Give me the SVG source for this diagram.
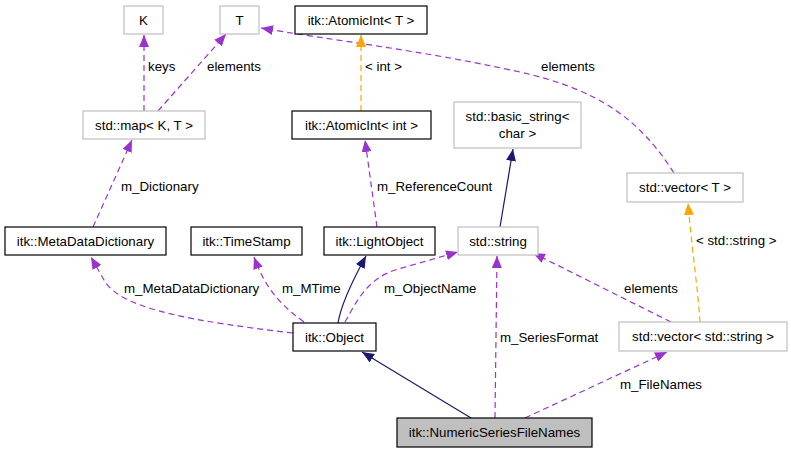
<svg xmlns="http://www.w3.org/2000/svg" width="791" height="453" viewBox="0 0 791 453">
<style>
text{font-family:"Liberation Sans",Arial,sans-serif;font-size:13.3px;fill:#000}
.n text{text-anchor:middle}
.b{fill:#fff;stroke:#000;stroke-width:1.2}
.g{fill:#fff;stroke:#bfbfbf;stroke-width:1.2}
.cur{fill:#bfbfbf;stroke:#000;stroke-width:1.2}
.p{fill:none;stroke:#9a32cd;stroke-width:1.2;stroke-dasharray:6,4;marker-end:url(#ap)}
.o{fill:none;stroke:#ffa500;stroke-width:1.2;stroke-dasharray:6,4;marker-end:url(#ao)}
.s{fill:none;stroke:#191970;stroke-width:1.2;marker-end:url(#as)}
</style>
<defs>
<marker id="ap" markerUnits="userSpaceOnUse" markerWidth="12" markerHeight="10" refX="12" refY="5" orient="auto"><path d="M0,0 L12,5 L0,10 z" fill="#9a32cd"/></marker>
<marker id="ao" markerUnits="userSpaceOnUse" markerWidth="12" markerHeight="10" refX="12" refY="5" orient="auto"><path d="M0,0 L12,5 L0,10 z" fill="#ffa500"/></marker>
<marker id="as" markerUnits="userSpaceOnUse" markerWidth="12" markerHeight="10" refX="12" refY="5" orient="auto"><path d="M0,0 L12,5 L0,10 z" fill="#191970"/></marker>
</defs>
<rect width="791" height="453" fill="#fff"/>
<g id="edges">
<path class="p" d="M144,111 L144,35"/>
<path class="p" d="M158,111 L226,34"/>
<path class="p" d="M674,173 C640,120 600,90 520,72 C420,50 330,40 261,28"/>
<path class="o" d="M361,111 L361,35"/>
<path class="s" d="M500,227 L513,149"/>
<path class="p" d="M377,227 L365,140"/>
<path class="p" d="M93,227 L132,140"/>
<path class="o" d="M700,322 C698,290 692,250 688,203"/>
<path class="p" d="M293,333 C200,322 120,310 104,280 L91,257"/>
<path class="p" d="M304,322 C282,306 266,290 254,257"/>
<path class="s" d="M338,323 C341,305 350,285 366,256"/>
<path class="p" d="M345,322 C355,305 365,280 395,270 L458,252"/>
<path class="p" d="M495,418 L497,256"/>
<path class="p" d="M671,322 L533,253"/>
<path class="s" d="M471,418 L362,352"/>
<path class="p" d="M525,418 L667,352"/>
<text x="148" y="71">keys</text>
<text x="207" y="71">elements</text>
<text x="541" y="71">elements</text>
<text x="365" y="71">&lt; int &gt;</text>
<text x="121" y="191">m_Dictionary</text>
<text x="377" y="191">m_ReferenceCount</text>
<text x="696" y="245">&lt; std::string &gt;</text>
<text x="124" y="293">m_MetaDataDictionary</text>
<text x="282" y="293">m_MTime</text>
<text x="384" y="293">m_ObjectName</text>
<text x="624" y="293">elements</text>
<text x="500" y="342">m_SeriesFormat</text>
<text x="620" y="389">m_FileNames</text>
</g>
<g id="K" class="n"><rect class="g" x="124" y="6" width="39" height="28"/><text x="143.5" y="25">K</text></g>
<g id="T" class="n"><rect class="g" x="220" y="6" width="39" height="28"/><text x="239.5" y="25">T</text></g>
<g id="map" class="n"><rect class="g" x="83" y="111" width="122" height="28"/><text x="144" y="130">std::map&lt; K, T &gt;</text></g>
<g id="atomicT" class="n"><rect class="b" x="295" y="6" width="132" height="28"/><text x="361" y="25">itk::AtomicInt&lt; T &gt;</text></g>
<g id="atomicInt" class="n"><rect class="b" x="292" y="111" width="139" height="28"/><text x="361.5" y="130">itk::AtomicInt&lt; int &gt;</text></g>
<g id="basicString" class="n"><rect class="g" x="454" y="102" width="127" height="46"/><text x="517.5" y="121">std::basic_string&lt;</text><text x="517.5" y="138">char &gt;</text></g>
<g id="vectorT" class="n"><rect class="g" x="627" y="173" width="116" height="29"/><text x="685" y="192">std::vector&lt; T &gt;</text></g>
<g id="metaDict" class="n"><rect class="b" x="5" y="227" width="161" height="28"/><text x="85.5" y="246">itk::MetaDataDictionary</text></g>
<g id="timeStamp" class="n"><rect class="b" x="191" y="227" width="111" height="28"/><text x="246.5" y="246">itk::TimeStamp</text></g>
<g id="lightObject" class="n"><rect class="b" x="324" y="227" width="111" height="28"/><text x="379.5" y="246">itk::LightObject</text></g>
<g id="string" class="n"><rect class="g" x="458" y="227" width="80" height="28"/><text x="498" y="246">std::string</text></g>
<g id="object" class="n"><rect class="b" x="293" y="323" width="83" height="28"/><text x="334.5" y="342">itk::Object</text></g>
<g id="vectorString" class="n"><rect class="g" x="619" y="322" width="168" height="29"/><text x="703" y="341">std::vector&lt; std::string &gt;</text></g>
<g id="numeric" class="n"><rect class="cur" x="397" y="418" width="195" height="29"/><text x="494.5" y="437">itk::NumericSeriesFileNames</text></g>
</svg>
